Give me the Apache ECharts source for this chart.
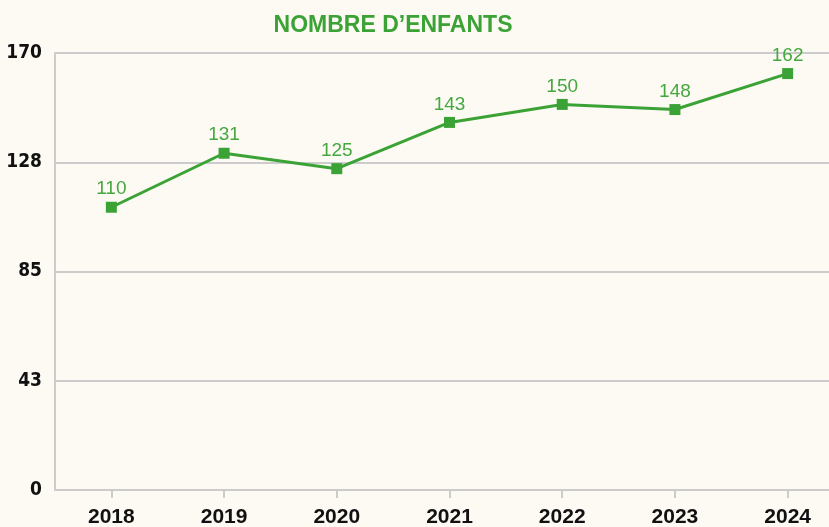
<!DOCTYPE html>
<html lang="fr">
<head>
<meta charset="UTF-8">
<title>Nombre d'enfants</title>
<script src="https://cdn.jsdelivr.net/npm/echarts@6/dist/echarts.min.js"></script>
<style>
  html, body, #chart { margin: 0; padding: 0; width: 829px; height: 527px; background: #fdfaf4; }
</style>
</head>
<body>
<div id="chart"></div>
<script>
  const years = ['2018', '2019', '2020', '2021', '2022', '2023', '2024'];
  const enfants = [110, 131, 125, 143, 150, 148, 162];

  const green = '#3ba336';
  const chart = echarts.init(document.getElementById('chart'));
  chart.setOption({
    backgroundColor: '#fdfaf4',
    animation: false,
    title: {
      text: 'NOMBRE D’ENFANTS',
      left: 388,
      textAlign: 'center',
      top: 9,
      textStyle: { color: green, fontFamily: 'Liberation Sans', fontWeight: 'bold', fontSize: 23 }
    },
    // grid runs past the right edge, like the original
    grid: { left: 55, right: -15, top: 53, bottom: 37, outerBoundsMode: 'none', containLabel: false },
    xAxis: {
      type: 'category',
      data: years,
      axisLine: { lineStyle: { color: '#cccccc', width: 2 } },
      axisTick: { show: true, alignWithLabel: true, length: 8, lineStyle: { color: '#cccccc', width: 2 } },
      axisLabel: { color: '#111', fontFamily: 'Liberation Sans', fontWeight: 'bold', fontSize: 21, margin: 17 }
    },
    yAxis: {
      type: 'value',
      min: 0,
      max: 170,
      interval: 42.5,
      axisLine: { show: true, lineStyle: { color: '#cccccc', width: 2 } },
      splitLine: { lineStyle: { color: '#cccccc', width: 2 } },
      axisLabel: {
        color: '#111',
        fontFamily: 'DejaVu Sans Condensed',
        fontWeight: 'bold',
        fontSize: 19,
        margin: 13,
        formatter: v => String(Math.round(v))
      }
    },
    series: [{
      type: 'line',
      data: enfants,
      symbol: 'rect',
      symbolSize: 11,
      lineStyle: { color: green, width: 3 },
      itemStyle: { color: green },
      label: {
        show: true,
        position: 'top',
        distance: 3,
        color: '#45a83f',
        fontFamily: 'Liberation Sans',
        fontSize: 19
      }
    }]
  });
</script>
</body>
</html>
